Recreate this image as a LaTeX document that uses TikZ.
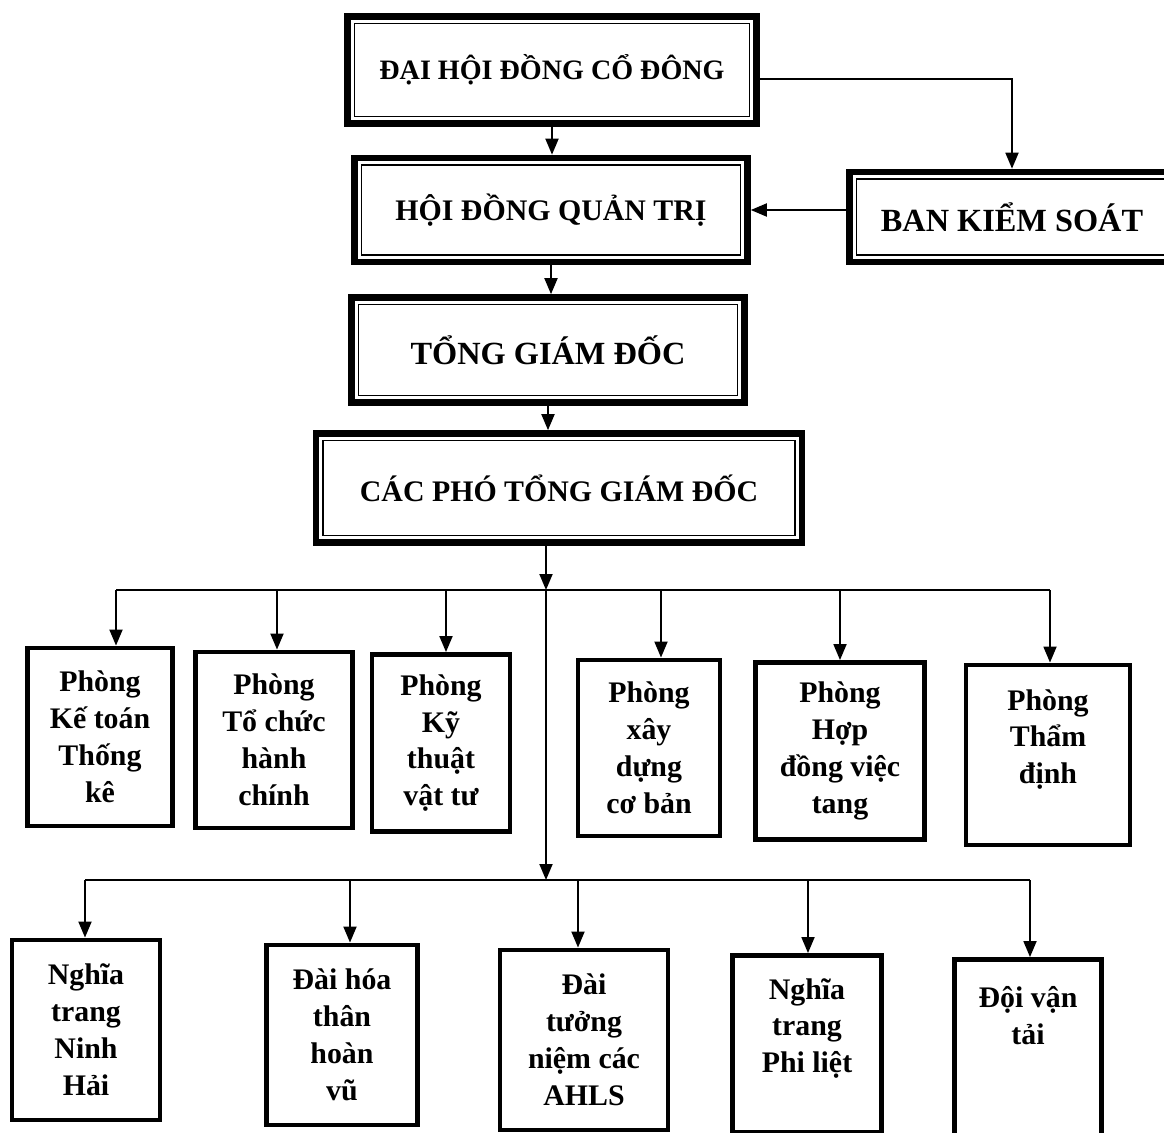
\documentclass[tikz,border=0pt]{standalone}
\usepackage{fontspec}
\setmainfont{Liberation Serif}
\usetikzlibrary{arrows.meta}
\tikzset{
  topbox/.style={draw, line width=3.8pt, inner sep=0pt, align=center,
    path picture={\draw[line width=1pt]
      ([shift={(4pt,-4pt)}]path picture bounding box.north west) rectangle
      ([shift={(-4pt,4pt)}]path picture bounding box.south east);}},
  unitbox/.style={draw, line width=2.8pt, inner sep=0pt, align=center,
    font=\fontsize{17}{21}\selectfont\bfseries},
  conn/.style={line width=1.05pt},
  arr/.style={conn, -{Triangle[length=0.32cm,width=0.26cm]}}
}
\begin{document}
\begin{tikzpicture}[x=0.02cm,y=-0.02cm]
\useasboundingbox (0,0) rectangle (1164,1133);
\fill[white] (0,0) rectangle (1164,1133);

% top boxes
\node[topbox, minimum width=8.18cm, minimum height=2.14cm,
  font=\fontsize{16}{19}\selectfont\bfseries] (DH) at (552,70) {ĐẠI HỘI ĐỒNG CỔ ĐÔNG};
\node[topbox, minimum width=7.86cm, minimum height=2.08cm,
  font=\fontsize{17}{20}\selectfont\bfseries] (HDQT) at (551,210) {HỘI ĐỒNG QUẢN TRỊ};
\node[topbox, minimum width=6.5cm, minimum height=1.8cm,
  font=\fontsize{18.4}{22}\selectfont\bfseries] (BKS) at (1012,217) {BAN KIỂM SOÁT};
\node[topbox, minimum width=7.86cm, minimum height=2.1cm,
  font=\fontsize{18.4}{22}\selectfont\bfseries] (TGD) at (548,350) {TỔNG GIÁM ĐỐC};
\node[topbox, minimum width=9.72cm, minimum height=2.18cm,
  font=\fontsize{17}{20}\selectfont\bfseries] (CPT) at (559,488) {CÁC PHÓ TỔNG GIÁM ĐỐC};

% first row of units
\node[unitbox, minimum width=2.9cm, minimum height=3.56cm] (A) at (100,737) {Phòng\\Kế toán\\Thống\\kê};
\node[unitbox, minimum width=3.14cm, minimum height=3.52cm] (B) at (274,740) {Phòng\\Tổ chức\\hành\\chính};
\node[unitbox, minimum width=2.76cm, minimum height=3.54cm] (C) at (441,743) {Phòng\\Kỹ\\thuật\\vật tư};
\node[unitbox, minimum width=2.84cm, minimum height=3.52cm] (D) at (649,748) {Phòng\\xây\\dựng\\cơ bản};
\node[unitbox, minimum width=3.38cm, minimum height=3.54cm] (E) at (840,751) {Phòng\\Hợp\\đồng việc\\tang};
\node[unitbox, minimum width=3.28cm, minimum height=3.6cm] (F) at (1048,755) {Phòng\\Thẩm\\định\\\mbox{}};

% second row of units
\node[unitbox, minimum width=2.96cm, minimum height=3.6cm] (G) at (86,1030) {Nghĩa\\trang\\Ninh\\Hải};
\node[unitbox, minimum width=3.02cm, minimum height=3.6cm] (H) at (342,1035) {Đài hóa\\thân\\hoàn\\vũ};
\node[unitbox, minimum width=3.36cm, minimum height=3.6cm] (I) at (584,1040) {Đài\\tưởng\\niệm các\\AHLS};
\node[unitbox, minimum width=2.98cm, minimum height=3.54cm] (J) at (807,1044) {Nghĩa\\trang\\Phi liệt\\\mbox{}};
\node[unitbox, minimum width=2.94cm, minimum height=3.7cm] (K) at (1028,1052) {Đội vận\\tải\\\mbox{}\\\mbox{}};

% top connectors
\draw[arr] (DH.south) -- (DH.south |- HDQT.north);
\draw[arr] ([yshift=-0.18cm]DH.east) -| (BKS.north);
\draw[arr] (BKS.west |- HDQT.east) -- (HDQT.east);
\draw[arr] (HDQT.south) -- (HDQT.south |- TGD.north);
\draw[arr] (TGD.south) -- (TGD.south |- CPT.north);

% bus 1
\coordinate (b1) at (546,590);
\coordinate (b2) at (546,880);
\draw[arr] (b1 |- CPT.south) -- (b1);
\draw[arr] (b1) -- (b2);
\coordinate (b1A) at (116,590);
\coordinate (b1B) at (277,590);
\coordinate (b1C) at (446,590);
\coordinate (b1D) at (661,590);
\coordinate (b1E) at (840,590);
\coordinate (b1F) at (1050,590);
\draw[conn] (b1A) -- (b1F);
\draw[arr] (b1A) -- (b1A |- A.north);
\draw[arr] (b1B) -- (b1B |- B.north);
\draw[arr] (b1C) -- (b1C |- C.north);
\draw[arr] (b1D) -- (b1D |- D.north);
\draw[arr] (b1E) -- (b1E |- E.north);
\draw[arr] (b1F) -- (b1F |- F.north);

% bus 2
\coordinate (b2G) at (85,880);
\coordinate (b2H) at (350,880);
\coordinate (b2I) at (578,880);
\coordinate (b2J) at (808,880);
\coordinate (b2K) at (1030,880);
\draw[conn] (b2G) -- (b2K);
\draw[arr] (b2G) -- (b2G |- G.north);
\draw[arr] (b2H) -- (b2H |- H.north);
\draw[arr] (b2I) -- (b2I |- I.north);
\draw[arr] (b2J) -- (b2J |- J.north);
\draw[arr] (b2K) -- (b2K |- K.north);
\end{tikzpicture}
\end{document}
